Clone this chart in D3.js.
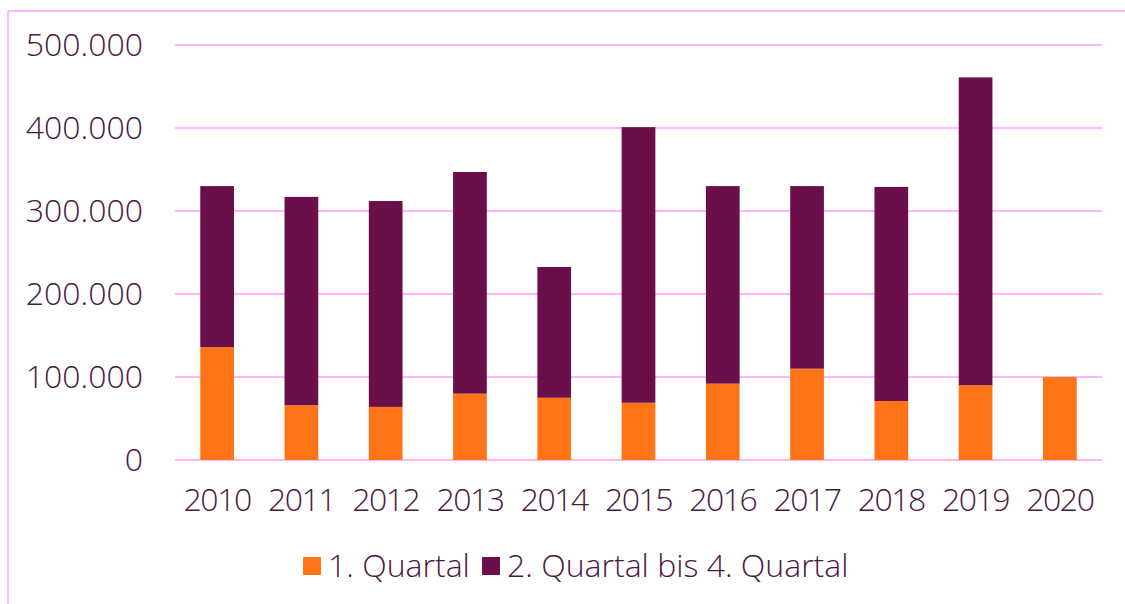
<!DOCTYPE html>
<html>
<head>
<meta charset="utf-8">
<script src="https://cdn.jsdelivr.net/npm/d3@7"></script>
<style>
  body { margin: 0; background: #fff; }
  text { font-family: "Open Sans", sans-serif; font-weight: 300; fill: #4a1942; }
</style>
</head>
<body>
<div id="chart"></div>
<script>
var years = ["2010", "2011", "2012", "2013", "2014", "2015", "2016", "2017", "2018", "2019", "2020"];
var q1 = [136000, 66000, 64000, 80000, 75000, 69000, 92000, 110000, 71000, 90000, 100000];
var q2to4 = [194000, 251000, 248000, 267000, 157500, 332000, 238000, 220000, 258000, 371000, 0];
var seriesNames = ["1. Quartal", "2. Quartal bis 4. Quartal"];
var yTicks = [0, 100000, 200000, 300000, 400000, 500000];

var width = 1125, height = 604;
var colors = ["#ff7417", "#6a0f49"];
var gridColor = "#ffb8ff";

var svg = d3.select("#chart").append("svg")
    .attr("width", width)
    .attr("height", height);

// outer frame (only top and left visible)
svg.append("line").attr("x1", 8).attr("x2", width).attr("y1", 11).attr("y2", 11)
    .attr("stroke", gridColor).attr("stroke-width", 2);
svg.append("line").attr("x1", 8).attr("x2", 8).attr("y1", 11).attr("y2", height)
    .attr("stroke", gridColor).attr("stroke-width", 2);

var x = d3.scaleBand().domain(years).range([175, 1102]).padding(0);
var y = d3.scaleLinear().domain([0, 500000]).range([460, 45]);

var fmt = function(v) { return d3.format(",")(v).replace(/,/g, "."); };

// grid
svg.selectAll(".grid").data(yTicks).enter().append("line")
    .attr("x1", 175).attr("x2", 1102)
    .attr("y1", function(d) { return y(d); })
    .attr("y2", function(d) { return y(d); })
    .attr("stroke", gridColor).attr("stroke-width", 2);

// y labels
svg.selectAll(".ylab").data(yTicks).enter().append("text")
    .attr("x", 143)
    .attr("y", function(d) { return y(d); })
    .attr("dy", "0.35em")
    .attr("text-anchor", "end")
    .style("font-size", "32px")
    .text(fmt);

var stackData = years.map(function(yr, i) { return { year: yr, a: q1[i], b: q2to4[i] }; });
var stack = d3.stack().keys(["a", "b"])(stackData);

var barW = x.bandwidth() * 0.4;

svg.selectAll(".series").data(stack).enter().append("g")
    .attr("fill", function(d, i) { return colors[i]; })
    .selectAll("rect").data(function(d) { return d; }).enter().append("rect")
    .attr("x", function(d) { return x(d.data.year) + (x.bandwidth() - barW) / 2; })
    .attr("width", barW)
    .attr("y", function(d) { return y(d[1]); })
    .attr("height", function(d) { return y(d[0]) - y(d[1]); });

// x labels
svg.selectAll(".xlab").data(years).enter().append("text")
    .attr("x", function(d) { return x(d) + x.bandwidth() / 2; })
    .attr("y", 500)
    .attr("dy", "0.35em")
    .attr("text-anchor", "middle")
    .style("font-size", "32px")
    .style("letter-spacing", "-1.5px")
    .text(function(d) { return d; });

// legend
var legendX = [303, 482];
var lg = svg.selectAll(".legend").data(seriesNames).enter().append("g")
    .attr("transform", function(d, i) { return "translate(" + legendX[i] + ",566)"; });
lg.append("rect").attr("x", 0).attr("y", -9).attr("width", 18).attr("height", 18)
    .attr("fill", function(d, i) { return colors[i]; });
lg.append("text").attr("x", 25).attr("dy", "0.35em")
    .style("font-size", "32px")
    .text(function(d) { return d; });
</script>
</body>
</html>
